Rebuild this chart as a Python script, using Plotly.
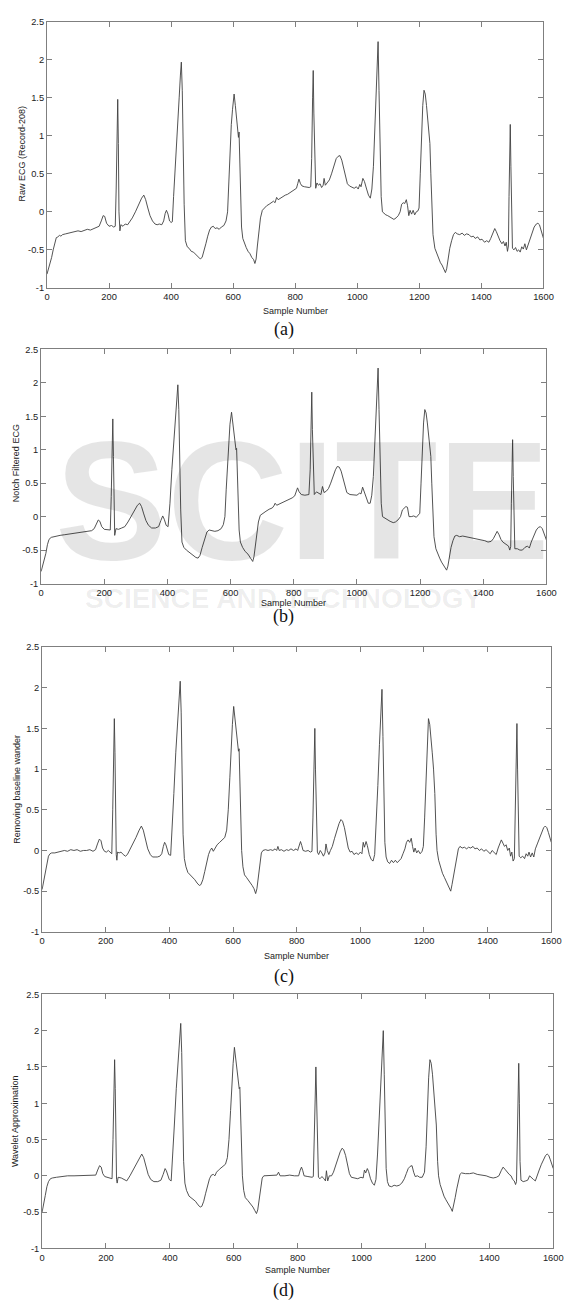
import plotly.graph_objects as go

W, H = 574, 1306

# ---------------- data (sample number, amplitude) ----------------
raw_pts = [(0,-0.82),(5,-0.75),(10,-0.65),(15,-0.6),(20,-0.5),(25,-0.4),(30,-0.34),(35,-0.33),(40,-0.31),(45,-0.32),
 (50,-0.30),(60,-0.29),(70,-0.28),(80,-0.27),(90,-0.27),(100,-0.25),(110,-0.26),(120,-0.24),(130,-0.23),(140,-0.24),
 (150,-0.22),(160,-0.21),(168,-0.19),(175,-0.12),(181,-0.05),(186,-0.06),(192,-0.15),(200,-0.19),(208,-0.18),(215,-0.20),
 (220,-0.19),(223,0.3),(226,1.1),(228,1.48),(230,0.9),(232,0.0),(235,-0.25),(238,-0.17),(245,-0.19),(252,-0.16),
 (260,-0.17),(268,-0.13),(275,-0.08),(285,0.0),(295,0.1),(305,0.18),(312,0.22),(318,0.16),(325,0.05),(332,-0.05),
 (340,-0.12),(348,-0.16),(355,-0.17),(362,-0.16),(370,-0.17),(376,-0.12),(381,-0.02),(385,0.02),(390,-0.03),(395,-0.12),
 (400,-0.14),(404,-0.13),(408,0.2),(414,0.7),(420,1.1),(426,1.5),(430,1.8),(433,1.97),(436,1.6),(439,0.8),
 (442,0.1),(446,-0.38),(452,-0.46),(458,-0.48),(465,-0.52),(472,-0.53),(480,-0.56),(487,-0.59),(494,-0.62),(500,-0.6),
 (506,-0.52),(512,-0.42),(518,-0.32),(524,-0.24),(530,-0.2),(536,-0.19),(542,-0.22),(548,-0.21),(555,-0.23),(562,-0.2),
 (570,-0.18),(577,-0.12),(582,0.0),(586,0.4),(590,0.8),(594,1.15),(598,1.35),(603,1.55),(607,1.4),(611,1.18),
 (615,1.08),(617,0.98),(619,1.05),(621,0.7),(624,0.2),(627,-0.2),(631,-0.35),(636,-0.42),(642,-0.47),(648,-0.52),
 (654,-0.55),(660,-0.6),(666,-0.63),(670,-0.68),(674,-0.62),(678,-0.45),(683,-0.25),(688,-0.08),(694,0.02),(700,0.05),
 (708,0.08),(716,0.1),(724,0.12),(730,0.14),(735,0.12),(740,0.19),(745,0.16),(752,0.18),(760,0.2),(768,0.22),
 (775,0.23),(782,0.25),(790,0.27),(798,0.3),(804,0.31),(808,0.37),(812,0.43),(817,0.37),(822,0.34),(830,0.33),
 (838,0.32),(845,0.32),(850,0.33),(853,0.7),(856,1.5),(858,1.86),(860,1.3),(863,0.5),(866,0.31),(870,0.38),
 (875,0.35),(880,0.37),(885,0.32),(890,0.35),(893,0.44),(897,0.35),(903,0.38),(910,0.42),(917,0.5),(925,0.62),
 (932,0.7),(938,0.73),(944,0.74),(950,0.68),(956,0.57),(962,0.45),(968,0.37),(975,0.34),(982,0.33),(990,0.31),
 (997,0.33),(1003,0.3),(1008,0.36),(1012,0.33),(1018,0.44),(1023,0.4),(1030,0.3),(1036,0.22),(1042,0.18),(1047,0.3),
 (1052,0.6),(1057,1.1),(1061,1.6),(1064,2.0),(1067,2.24),(1070,1.6),(1073,0.8),(1077,0.2),(1081,0.0),(1086,-0.02),
 (1092,-0.04),(1098,-0.05),(1105,-0.07),(1112,-0.09),(1118,-0.1),(1125,-0.08),(1132,-0.05),(1138,0.0),(1143,0.1),(1148,0.12),
 (1153,0.11),(1158,0.16),(1162,0.08),(1166,-0.05),(1170,0.02),(1175,-0.03),(1180,0.02),(1185,-0.04),(1190,0.0),(1195,0.01),
 (1199,0.05),(1203,0.5),(1207,1.0),(1211,1.4),(1215,1.6),(1219,1.55),(1223,1.4),(1227,1.2),(1231,1.05),(1234,0.9),
 (1237,0.5),(1240,0.0),(1244,-0.3),(1250,-0.48),(1256,-0.55),(1262,-0.6),(1268,-0.67),(1273,-0.7),(1278,-0.74),(1284,-0.8),
 (1288,-0.75),(1293,-0.6),(1298,-0.48),(1304,-0.38),(1310,-0.3),(1316,-0.27),(1322,-0.29),(1330,-0.3),(1338,-0.28),(1345,-0.31),
 (1352,-0.29),(1360,-0.3),(1367,-0.33),(1374,-0.32),(1380,-0.35),(1388,-0.33),(1395,-0.37),(1402,-0.36),(1410,-0.4),(1417,-0.38),
 (1424,-0.4),(1430,-0.35),(1436,-0.28),(1443,-0.22),(1448,-0.26),(1454,-0.33),(1460,-0.38),(1466,-0.42),(1471,-0.39),(1476,-0.45),
 (1480,-0.4),(1484,-0.52),(1487,-0.45),(1489,0.2),(1491,0.8),(1493,1.15),(1495,0.6),(1497,-0.2),(1500,-0.48),(1505,-0.5),
 (1510,-0.47),(1515,-0.52),(1520,-0.5),(1525,-0.53),(1530,-0.46),(1535,-0.49),(1540,-0.42),(1545,-0.5),(1550,-0.44),(1555,-0.35),
 (1562,-0.27),(1570,-0.2),(1577,-0.16),(1582,-0.15),(1587,-0.17),(1592,-0.24),(1596,-0.3),(1600,-0.35)]

notch_pts = [(0,-0.82),(5,-0.74),(10,-0.66),(15,-0.55),(20,-0.42),(25,-0.34),(32,-0.31),(40,-0.3),(50,-0.29),(60,-0.28),
 (75,-0.27),(90,-0.26),(105,-0.25),(120,-0.24),(135,-0.23),(150,-0.22),(160,-0.21),(168,-0.18),(175,-0.1),(181,-0.05),
 (186,-0.07),(192,-0.15),(200,-0.19),(210,-0.19),(219,-0.2),(222,0.3),(225,1.1),(227,1.46),(229,0.9),(231,0.0),
 (233,-0.28),(237,-0.18),(245,-0.19),(255,-0.17),(265,-0.15),(275,-0.08),(285,0.0),(295,0.08),(305,0.17),(312,0.2),
 (318,0.15),(325,0.04),(332,-0.06),(340,-0.13),(350,-0.17),(362,-0.17),(372,-0.15),(379,-0.06),(385,0.01),(390,-0.04),
 (396,-0.13),(402,-0.15),(408,0.2),(414,0.7),(420,1.1),(426,1.5),(430,1.8),(433,1.97),(436,1.6),(439,0.8),
 (442,0.1),(446,-0.38),(452,-0.46),(460,-0.5),(470,-0.54),(480,-0.57),(490,-0.61),(497,-0.62),(503,-0.58),(510,-0.46),
 (518,-0.32),(525,-0.23),(532,-0.2),(540,-0.21),(550,-0.22),(560,-0.21),(570,-0.18),(577,-0.12),(582,0.0),(586,0.4),
 (590,0.8),(594,1.15),(598,1.38),(603,1.56),(607,1.4),(611,1.18),(615,1.06),(617,1.0),(619,1.02),(621,0.7),
 (624,0.2),(627,-0.2),(631,-0.38),(638,-0.46),(646,-0.52),(655,-0.56),(663,-0.62),(670,-0.67),(674,-0.6),(678,-0.45),
 (683,-0.25),(688,-0.08),(694,0.02),(702,0.05),(712,0.08),(722,0.11),(732,0.13),(737,0.16),(741,0.2),(746,0.17),
 (755,0.19),(765,0.22),(775,0.24),(785,0.26),(795,0.28),(803,0.31),(808,0.37),(812,0.43),(817,0.37),(824,0.33),
 (835,0.32),(848,0.33),(852,0.7),(855,1.5),(857,1.86),(859,1.3),(862,0.5),(865,0.33),(872,0.37),(880,0.34),
 (886,0.33),(891,0.45),(896,0.36),(903,0.38),(910,0.42),(917,0.5),(925,0.62),(932,0.7),(938,0.75),(944,0.74),
 (950,0.68),(956,0.57),(962,0.45),(968,0.36),(978,0.33),(990,0.32),(1000,0.32),(1008,0.35),(1013,0.34),(1018,0.44),
 (1023,0.38),(1030,0.28),(1036,0.2),(1042,0.2),(1047,0.32),(1052,0.6),(1057,1.1),(1061,1.6),(1064,2.0),(1067,2.22),
 (1070,1.6),(1073,0.8),(1077,0.2),(1081,0.0),(1088,-0.02),(1096,-0.05),(1105,-0.07),(1115,-0.09),(1122,-0.08),(1130,-0.05),
 (1138,0.0),(1144,0.1),(1150,0.13),(1155,0.15),(1160,0.14),(1165,0.0),(1172,0.0),(1180,0.01),(1188,-0.01),(1195,0.02),
 (1199,0.05),(1203,0.5),(1207,1.0),(1211,1.4),(1215,1.6),(1219,1.55),(1223,1.4),(1227,1.2),(1231,1.02),(1234,0.9),
 (1237,0.5),(1240,0.0),(1244,-0.3),(1250,-0.48),(1256,-0.56),(1262,-0.62),(1268,-0.68),(1274,-0.72),(1279,-0.75),(1284,-0.8),
 (1288,-0.74),(1293,-0.6),(1298,-0.46),(1304,-0.36),(1310,-0.29),(1316,-0.28),(1325,-0.3),(1335,-0.29),(1345,-0.3),(1355,-0.3),
 (1365,-0.32),(1375,-0.32),(1385,-0.34),(1395,-0.35),(1405,-0.36),(1415,-0.38),(1425,-0.37),(1432,-0.33),(1438,-0.27),(1444,-0.22),
 (1450,-0.27),(1456,-0.34),(1462,-0.38),(1468,-0.4),(1474,-0.42),(1480,-0.44),(1484,-0.5),(1487,-0.45),(1489,0.2),(1491,0.8),
 (1493,1.15),(1495,0.6),(1497,-0.2),(1500,-0.48),(1508,-0.48),(1516,-0.5),(1524,-0.5),(1532,-0.46),(1540,-0.44),(1546,-0.47),
 (1552,-0.38),(1560,-0.28),(1568,-0.2),(1575,-0.16),(1581,-0.15),(1587,-0.18),(1592,-0.24),(1596,-0.3),(1600,-0.35)]

baseline_pts = [(0,-0.48),(5,-0.38),(10,-0.25),(15,-0.14),(20,-0.07),(25,-0.04),(30,-0.03),(40,-0.03),(50,-0.02),(60,-0.01),
 (70,0.0),(80,-0.01),(90,0.01),(100,0.0),(110,0.01),(120,-0.01),(130,0.0),(140,0.0),(150,0.01),(160,-0.01),
 (168,0.01),(174,0.08),(180,0.14),(185,0.12),(190,0.03),(196,-0.01),(202,-0.02),(208,0.0),(214,-0.03),(219,-0.04),
 (222,0.5),(225,1.3),(227,1.62),(229,1.2),(231,0.4),(233,-0.05),(235,-0.12),(237,-0.02),(242,-0.03),(248,-0.02),
 (255,-0.05),(262,-0.07),(268,-0.05),(275,0.0),(285,0.08),(295,0.16),(305,0.25),(312,0.3),(318,0.25),(325,0.13),
 (332,0.02),(340,-0.05),(347,-0.08),(355,-0.08),(362,-0.08),(370,-0.07),(376,-0.04),(381,0.05),(385,0.1),(389,0.07),
 (393,0.0),(398,-0.05),(404,-0.06),(408,0.2),(414,0.7),(420,1.2),(426,1.6),(431,1.95),(434,2.08),(437,1.7),
 (440,0.9),(443,0.2),(447,-0.1),(452,-0.2),(458,-0.27),(465,-0.3),(472,-0.32),(480,-0.36),(487,-0.4),(494,-0.43),
 (499,-0.42),(505,-0.36),(511,-0.26),(517,-0.15),(523,-0.05),(528,0.0),(533,0.03),(538,-0.01),(543,0.03),(550,0.07),
 (558,0.1),(566,0.13),(574,0.16),(580,0.25),(585,0.5),(590,0.9),(594,1.3),(598,1.55),(602,1.77),(606,1.6),
 (610,1.42),(614,1.28),(617,1.22),(619,1.25),(621,0.9),(624,0.4),(627,0.0),(631,-0.2),(636,-0.3),(642,-0.33),
 (648,-0.36),(654,-0.39),(660,-0.43),(666,-0.47),(671,-0.53),(675,-0.47),(679,-0.33),(684,-0.15),(689,-0.03),(694,0.0),
 (702,0.01),(710,0.0),(718,0.01),(725,0.0),(732,0.02),(737,0.0),(741,0.05),(745,0.0),(752,0.01),(760,-0.01),
 (768,0.01),(775,0.0),(782,0.02),(790,0.0),(798,0.02),(803,0.0),(808,0.08),(812,0.11),(816,0.06),(820,0.0),
 (828,-0.01),(836,0.0),(843,-0.02),(848,-0.01),(851,0.4),(854,1.1),(857,1.5),(859,1.0),(862,0.3),(865,-0.02),
 (869,-0.05),(874,0.0),(879,-0.03),(884,-0.07),(889,-0.03),(892,0.08),(896,0.0),(901,-0.05),(906,0.0),(912,0.05),
 (919,0.15),(926,0.25),(933,0.33),(939,0.38),(944,0.36),(950,0.28),(956,0.15),(962,0.03),(968,-0.02),(974,-0.01),
 (980,-0.05),(987,-0.03),(994,-0.05),(1000,-0.02),(1005,-0.04),(1009,0.1),(1013,0.04),(1018,0.11),(1022,0.06),(1028,-0.05),
 (1034,-0.11),(1040,-0.13),(1045,-0.05),(1050,0.3),(1055,0.8),(1060,1.3),(1064,1.75),(1068,1.98),(1071,1.4),(1074,0.6),
 (1077,0.1),(1081,-0.08),(1086,-0.14),(1092,-0.16),(1098,-0.12),(1104,-0.15),(1110,-0.12),(1116,-0.15),(1122,-0.12),(1128,-0.1),
 (1134,-0.04),(1140,0.02),(1145,0.1),(1150,0.13),(1155,0.1),(1160,0.15),(1164,0.05),(1168,-0.02),(1172,0.03),(1177,-0.03),
 (1182,0.0),(1188,-0.04),(1194,-0.01),(1198,0.05),(1202,0.4),(1206,0.9),(1210,1.35),(1214,1.62),(1218,1.55),(1222,1.4),
 (1226,1.2),(1230,1.0),(1234,0.7),(1238,0.2),(1241,0.0),(1246,-0.12),(1252,-0.22),(1258,-0.28),(1264,-0.33),(1270,-0.38),
 (1276,-0.42),(1280,-0.45),(1284,-0.5),(1288,-0.42),(1293,-0.3),(1298,-0.18),(1303,-0.06),(1308,0.02),(1313,0.05),(1320,0.03),
 (1327,0.04),(1334,0.02),(1340,0.04),(1347,0.03),(1354,0.05),(1360,0.02),(1367,0.03),(1374,0.0),(1381,0.02),(1388,-0.01),
 (1395,0.01),(1402,-0.02),(1408,-0.04),(1414,0.0),(1420,-0.02),(1427,-0.05),(1433,0.03),(1438,0.09),(1443,0.13),(1448,0.09),
 (1453,0.05),(1458,0.07),(1463,0.0),(1468,0.03),(1472,-0.07),(1476,-0.02),(1480,-0.13),(1484,-0.1),(1487,0.5),(1490,1.2),
 (1492,1.56),(1494,1.0),(1496,0.2),(1499,-0.07),(1504,-0.09),(1510,-0.07),(1516,-0.1),(1521,-0.04),(1526,-0.07),(1530,-0.02),
 (1535,-0.08),(1540,-0.03),(1545,-0.08),(1550,0.02),(1556,0.08),(1563,0.16),(1570,0.23),(1576,0.28),(1581,0.3),(1586,0.28),
 (1591,0.22),(1596,0.15),(1600,0.1)]

wavelet_pts = [(0,-0.5),(5,-0.4),(10,-0.27),(15,-0.15),(20,-0.08),(26,-0.04),(32,-0.03),(45,-0.02),(60,-0.01),(80,0.0),
 (100,0.0),(120,0.0),(140,0.0),(160,0.0),(168,0.01),(174,0.08),(180,0.14),(185,0.12),(190,0.03),(196,-0.01),
 (205,-0.02),(214,-0.03),(219,-0.04),(222,0.5),(225,1.3),(227,1.6),(229,1.2),(231,0.4),(233,-0.05),(235,-0.1),
 (238,-0.02),(248,-0.03),(258,-0.05),(265,-0.07),(275,0.0),(285,0.08),(295,0.16),(305,0.25),(312,0.3),(318,0.25),
 (325,0.13),(332,0.02),(340,-0.05),(350,-0.08),(362,-0.08),(372,-0.06),(379,0.02),(385,0.1),(389,0.07),(393,0.0),
 (398,-0.05),(404,-0.07),(408,0.2),(414,0.7),(420,1.2),(426,1.6),(431,1.98),(434,2.1),(437,1.7),(440,0.9),
 (443,0.2),(447,-0.1),(452,-0.2),(460,-0.28),(470,-0.31),(480,-0.35),(488,-0.4),(495,-0.43),(500,-0.42),(506,-0.35),
 (512,-0.24),(518,-0.13),(524,-0.04),(530,0.01),(536,0.02),(541,0.0),(546,0.05),(555,0.09),(565,0.13),(574,0.16),
 (580,0.25),(585,0.5),(590,0.9),(594,1.3),(598,1.55),(602,1.77),(606,1.6),(610,1.42),(614,1.28),(617,1.2),
 (619,1.22),(621,0.9),(624,0.4),(627,0.0),(631,-0.2),(636,-0.3),(644,-0.34),(652,-0.38),(660,-0.43),(666,-0.48),
 (671,-0.52),(675,-0.47),(679,-0.33),(684,-0.15),(689,-0.03),(694,0.0),(705,0.0),(720,0.0),(735,0.01),(740,0.05),
 (745,0.0),(760,0.0),(775,0.01),(790,0.0),(803,0.0),(808,0.08),(812,0.12),(816,0.07),(820,0.0),(832,-0.01),
 (845,-0.02),(849,-0.01),(852,0.4),(855,1.1),(857,1.5),(859,1.0),(862,0.3),(865,-0.02),(870,-0.04),(876,-0.01),
 (882,-0.04),(887,-0.07),(890,0.07),(894,-0.07),(899,0.0),(906,0.0),(912,0.05),(919,0.15),(926,0.25),(933,0.33),
 (939,0.38),(944,0.36),(950,0.28),(956,0.15),(962,0.03),(968,-0.02),(978,-0.03),(988,-0.04),(998,-0.02),(1005,-0.03),
 (1009,0.08),(1013,0.04),(1018,0.1),(1022,0.06),(1028,-0.04),(1034,-0.1),(1040,-0.13),(1045,-0.05),(1050,0.3),(1055,0.8),
 (1060,1.3),(1064,1.75),(1068,2.0),(1071,1.4),(1074,0.6),(1077,0.1),(1081,-0.08),(1086,-0.14),(1094,-0.15),(1102,-0.13),
 (1110,-0.14),(1118,-0.13),(1126,-0.1),(1134,-0.04),(1140,0.03),(1146,0.1),(1152,0.13),(1158,0.14),(1163,0.05),(1168,-0.01),
 (1175,0.0),(1182,-0.02),(1190,-0.02),(1197,0.05),(1202,0.4),(1206,0.9),(1210,1.35),(1214,1.6),(1218,1.55),(1222,1.4),
 (1226,1.2),(1230,1.0),(1234,0.7),(1238,0.2),(1241,0.0),(1246,-0.12),(1252,-0.22),(1258,-0.28),(1264,-0.33),(1270,-0.37),
 (1276,-0.41),(1280,-0.45),(1284,-0.49),(1288,-0.42),(1293,-0.3),(1298,-0.18),(1303,-0.06),(1308,0.02),(1313,0.04),(1325,0.03),
 (1338,0.03),(1350,0.04),(1362,0.02),(1375,0.01),(1390,0.0),(1402,-0.02),(1412,-0.03),(1422,-0.02),(1430,0.0),(1437,0.07),
 (1443,0.12),(1449,0.09),(1456,0.05),(1462,0.02),(1468,0.0),(1473,-0.05),(1478,-0.07),(1482,-0.12),(1485,-0.08),(1488,0.5),
 (1490,1.0),(1492,1.55),(1494,1.0),(1496,0.2),(1499,-0.06),(1506,-0.08),(1514,-0.07),(1520,-0.06),(1526,0.0),(1532,-0.03),
 (1538,-0.05),(1544,-0.07),(1550,0.02),(1556,0.08),(1563,0.16),(1570,0.23),(1576,0.28),(1581,0.3),(1586,0.28),(1591,0.22),
 (1596,0.15),(1600,0.1)]

x_ticks = [0, 200, 400, 600, 800, 1000, 1200, 1400, 1600]
y_ticks = [-1, -0.5, 0, 0.5, 1, 1.5, 2, 2.5]
y_tick_text = ["-1", "-0.5", "0", "0.5", "1", "1.5", "2", "2.5"]

y_titles = ["Raw ECG (Record-208)", "Notch Filtered ECG", "Removing baseline wander", "Wavelet Approximation"]
x_title = "Sample Number"
panel_labels = ["(a)", "(b)", "(c)", "(d)"]
series = [raw_pts, notch_pts, baseline_pts, wavelet_pts]

# ---------------- layout geometry (pixels) ----------------
boxes = [  # left, right, top, bottom
    (45, 553, 17, 285),
    (39, 556, 347, 583),
    (40, 561, 647, 934),
    (40, 563, 997, 1253),
]
xtitle_y = [308, 603, 958, 1275]
label_y = [327, 616, 979, 1295]
ytitle_pos = [(19, 150), (14, 462), (14, 790), (13, 1125)]

def px(x):
    return x / W

def py(y):
    return 1 - y / H

fig = go.Figure()
axis_col = "#7f7f7f"
tick_font = dict(family="Liberation Sans, Arial, sans-serif", size=9.3, color="#222")
annotations = []

for i, (pts, (l, r, t, b)) in enumerate(zip(series, boxes)):
    n = "" if i == 0 else str(i + 1)
    xs = [p[0] for p in pts]
    ys = [p[1] for p in pts]
    fig.add_trace(go.Scatter(x=xs, y=ys, mode="lines",
                             line=dict(color="#404040", width=0.9),
                             xaxis="x" + n, yaxis="y" + n, showlegend=False,
                             hoverinfo="skip"))
    common = dict(showline=True, linecolor=axis_col, linewidth=1, mirror="ticks",
                  ticks="inside", ticklen=5, tickcolor=axis_col, tickwidth=1,
                  showgrid=False, zeroline=False, tickfont=tick_font)
    fig.layout["xaxis" + n] = dict(domain=[px(l), px(r)], anchor="y" + n,
                                   range=[0, 1600], tickmode="array", tickvals=x_ticks,
                                   **common)
    fig.layout["yaxis" + n] = dict(domain=[py(b), py(t)], anchor="x" + n,
                                   range=[-1, 2.5], tickmode="array", tickvals=y_ticks,
                                   ticktext=y_tick_text, **common)
    annotations.append(dict(text=x_title, x=px((l + r) / 2), y=py(xtitle_y[i]),
                            xref="paper", yref="paper", showarrow=False,
                            xanchor="center", yanchor="middle",
                            font=dict(family="Liberation Sans, Arial, sans-serif", size=9, color="#222")))
    annotations.append(dict(text=panel_labels[i], x=px(287), y=py(label_y[i]),
                            xref="paper", yref="paper", showarrow=False,
                            xanchor="center", yanchor="middle",
                            font=dict(family="Liberation Serif, Times New Roman, serif", size=18, color="#111")))
    annotations.append(dict(text=y_titles[i], x=px(ytitle_pos[i][0]), y=py(ytitle_pos[i][1]),
                            xref="paper", yref="paper", showarrow=False, textangle=-90,
                            xanchor="center", yanchor="middle",
                            font=dict(family="Liberation Sans, Arial, sans-serif", size=9, color="#222")))

# faint publisher watermark visible in the reference
annotations.append(dict(text="<b>SCITE</b>", x=px(306), y=py(500), xref="paper", yref="paper",
                        showarrow=False, xanchor="center", yanchor="middle",
                        font=dict(family="Liberation Sans, Arial, sans-serif", size=168,
                                  color="rgba(0,0,0,0.10)")))
annotations.append(dict(text="<b>SCIENCE AND TECHNOLOGY</b>", x=px(287), y=py(598), xref="paper", yref="paper",
                        showarrow=False, xanchor="center", yanchor="middle",
                        font=dict(family="Liberation Sans, Arial, sans-serif", size=28,
                                  color="rgba(0,0,0,0.07)")))

fig.update_layout(width=W, height=H, margin=dict(l=0, r=0, t=0, b=0),
                  paper_bgcolor="white", plot_bgcolor="rgba(0,0,0,0)",
                  annotations=annotations, showlegend=False)

# remove the browser's default page margin so the figure sits at the window's origin
fig.write_html("out.html",
               config={"displayModeBar": False},
               post_script="document.body.style.margin='0px';document.body.style.overflow='hidden';")
